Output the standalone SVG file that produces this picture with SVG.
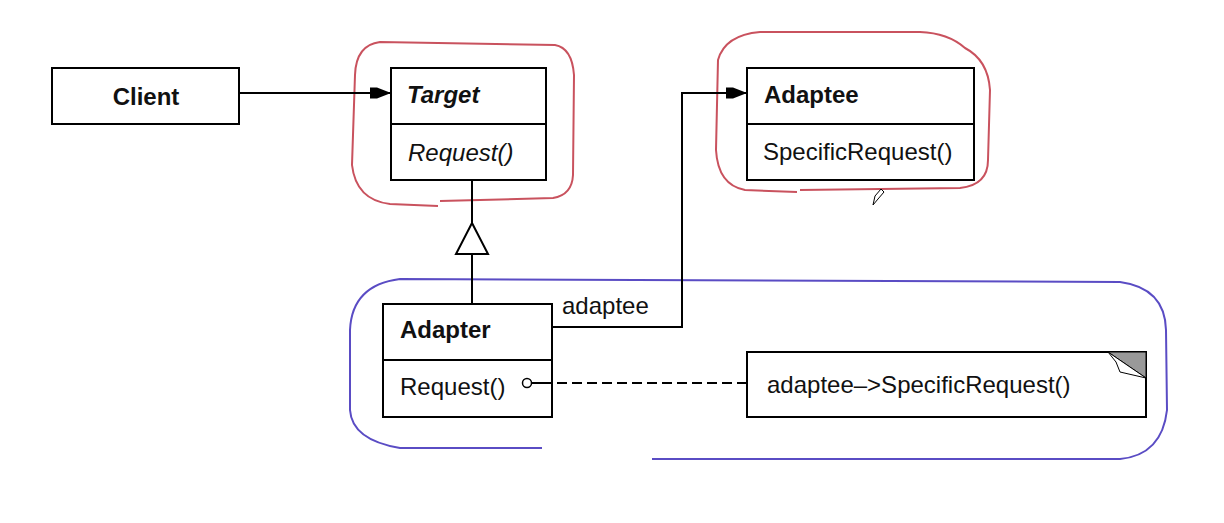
<svg xmlns="http://www.w3.org/2000/svg" width="1224" height="523" viewBox="0 0 1224 523">
<style>
.box{fill:#fff;stroke:#000;stroke-width:2}
.ln{fill:none;stroke:#000;stroke-width:2}
.t{font-family:"Liberation Sans",Arial,sans-serif;font-size:24px;fill:#111}
.b{font-weight:bold}
.i{font-style:italic}
.red{fill:none;stroke:#c9525e;stroke-width:2}
.blue{fill:none;stroke:#5a4cc4;stroke-width:2}
</style>
<defs>
<marker id="assoc" markerWidth="22" markerHeight="14" refX="21" refY="7" orient="auto" markerUnits="userSpaceOnUse">
<polygon points="0,1.5 7,1.5 21,7 7,12.5 0,12.5" fill="#000"/>
</marker>
</defs>
<rect width="1224" height="523" fill="#fff"/>
<g id="annotations">
<path class="red" d="M 440 201 L 553 198 Q 572 195 573 175 L 574 75 Q 572 48 555 45 L 380 42 Q 356 45 355 75 L 352 165 Q 356 200 390 204 L 438 206"/>
<path class="red" d="M 800 190 L 960 188 Q 988 185 988 160 L 990 90 Q 988 60 965 48 Q 948 33 920 32 L 760 32 Q 725 35 718 60 L 716 150 Q 718 185 745 190 L 797 192"/>
<path class="blue" d="M 542 448 L 400 448 Q 352 440 350 410 L 350 330 Q 352 285 400 279 L 1120 282 Q 1165 288 1166 330 L 1167 410 Q 1162 455 1120 459 L 652 459"/>
<polygon points="873,205 875,196 881,189 884,192 878,199" fill="#fff" stroke="#000" stroke-width="1"/>
</g>
<g id="client">
<rect class="box" x="52" y="68" width="187" height="56"/>
<text class="t b" x="146" y="105" text-anchor="middle">Client</text>
</g>
<g id="target">
<rect class="box" x="391" y="68" width="155" height="112"/>
<line class="ln" x1="391" y1="124" x2="546" y2="124"/>
<text class="t b i" x="407" y="103">Target</text>
<text class="t i" x="408" y="161">Request()</text>
</g>
<g id="adaptee">
<rect class="box" x="747" y="68" width="227" height="112"/>
<line class="ln" x1="747" y1="124" x2="974" y2="124"/>
<text class="t b" x="764" y="103">Adaptee</text>
<text class="t" x="763" y="160">SpecificRequest()</text>
</g>
<g id="adapter">
<rect class="box" x="383" y="304" width="169" height="113"/>
<line class="ln" x1="383" y1="360" x2="552" y2="360"/>
<text class="t b" x="400" y="338">Adapter</text>
<text class="t" x="400" y="395">Request()</text>
</g>
<g id="note">
<rect class="box" x="747" y="352" width="399" height="65"/>
<polygon points="1108,352 1146,352 1146,378" fill="#999" stroke="#000" stroke-width="1"/>
<polygon points="1108,352 1146,378 1120,372 1116,362" fill="#fff" stroke="#000" stroke-width="1"/>
<text class="t" x="767" y="393">adaptee–&gt;SpecificRequest()</text>
</g>
<g id="connectors">
<line class="ln" x1="239" y1="93" x2="391" y2="93" marker-end="url(#assoc)"/>
<line class="ln" x1="472" y1="180" x2="472" y2="223"/>
<polygon points="472,223 456,254 488,254" fill="#fff" stroke="#000" stroke-width="2"/>
<line class="ln" x1="472" y1="254" x2="472" y2="304"/>
<polyline class="ln" points="552,327 682,327 682,93 747,93" marker-end="url(#assoc)"/>
<circle cx="527" cy="383" r="4.5" fill="#fff" stroke="#000" stroke-width="1.5"/>
<line class="ln" x1="531.5" y1="383" x2="552" y2="383" stroke-width="1.5"/>
<line class="ln" x1="557" y1="383" x2="747" y2="383" stroke-width="1.5" stroke-dasharray="10,5"/>
<text class="t" x="562" y="314">adaptee</text>
</g>
</svg>
